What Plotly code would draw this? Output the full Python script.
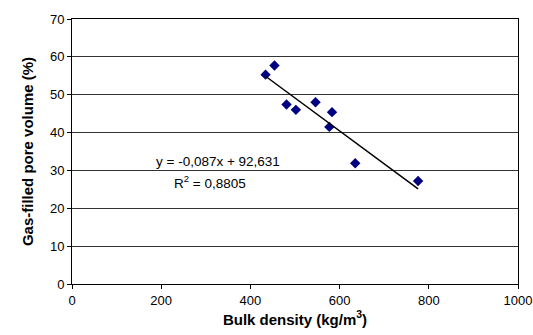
import plotly.graph_objects as go

density = [434, 454, 481, 502, 546, 583, 577, 635, 776]
pore_volume = [55.3, 57.7, 47.4, 46.0, 48.0, 45.4, 41.5, 31.9, 27.2]
slope = -0.087
intercept = 92.631
trend_x = [min(density), max(density)]
trend_y = [slope * v + intercept for v in trend_x]

fig = go.Figure()
fig.add_trace(go.Scatter(x=density, y=pore_volume, mode="markers",
                         marker=dict(symbol="diamond", size=8, color="#000080"),
                         showlegend=False))
fig.add_trace(go.Scatter(x=trend_x, y=trend_y, mode="lines",
                         line=dict(color="black", width=1.5), showlegend=False))

font = dict(family="Liberation Sans, Arial", size=13.5, color="black")
tickfont = dict(family="Liberation Sans, Arial", size=13, color="black")
tfont = dict(family="Liberation Sans, Arial", size=15, color="black")
fig.update_layout(
    width=533, height=335,
    margin=dict(l=72, r=15, t=19, b=51, autoexpand=False),
    paper_bgcolor="white", plot_bgcolor="white",
    font=font,
    xaxis=dict(range=[0, 1000], tickvals=[0, 200, 400, 600, 800, 1000],
               showgrid=False, zeroline=False, showline=True, linecolor="black",
               linewidth=1, mirror=True, ticks="outside", ticklen=4, tickcolor="black",
               automargin=False, ticklabeloverflow="allow", tickfont=tickfont,
               title=dict(text="<b>Bulk density (kg/m<sup>3</sup>)</b>", font=tfont, standoff=7)),
    yaxis=dict(range=[0, 70], tickvals=list(range(0, 71, 10)),
               showgrid=True, gridcolor="#333333", gridwidth=1, zeroline=False,
               showline=True, linecolor="black", linewidth=1, mirror=True,
               ticks="outside", ticklen=4, tickcolor="black",
               automargin=False, ticklabeloverflow="allow", tickfont=tickfont,
               title=dict(text="<b>Gas-filled pore volume (%)</b>", font=tfont, standoff=12)),
)
fig.add_annotation(x=0.327, y=(284 - 161.7) / 265, xref="paper", yref="paper",
                   xanchor="center", yanchor="middle",
                   text="y = -0,087x + 92,631", showarrow=False, font=font)
fig.add_annotation(x=0.309, y=(284 - 181.7) / 265, xref="paper", yref="paper",
                   xanchor="center", yanchor="middle",
                   text="R<sup>2</sup> = 0,8805", showarrow=False, font=font)

fig.write_html("out.html", config={"displayModeBar": False},
               post_script="document.body.style.margin='0';document.body.style.overflow='hidden';")
